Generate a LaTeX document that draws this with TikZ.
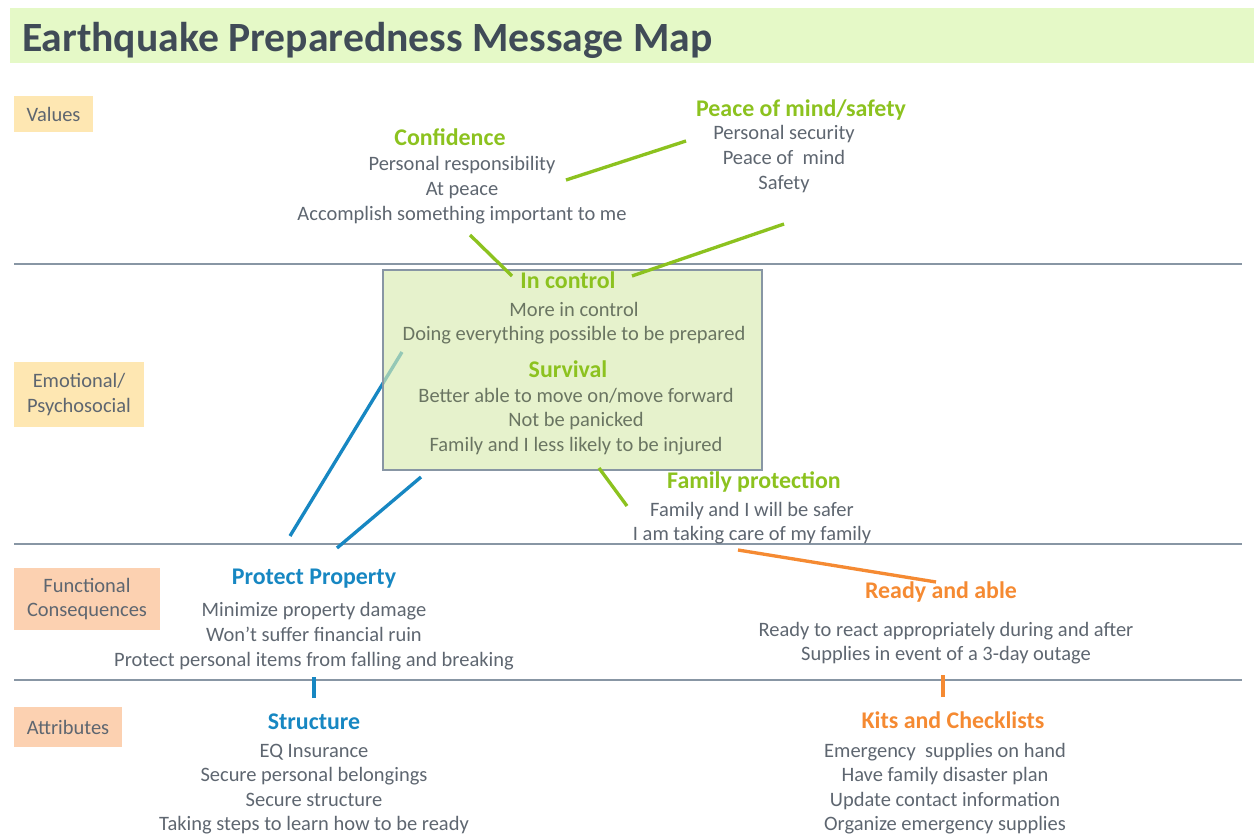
\documentclass[tikz,border=0pt]{standalone}
\usepackage{fontspec}
\setmainfont{Carlito}
\definecolor{faixa}{HTML}{E5F9C7}
\definecolor{titcor}{HTML}{404B57}
\definecolor{amar}{HTML}{FEE7B2}
\definecolor{pess}{HTML}{FCD1B1}
\definecolor{caixa}{HTML}{D9EBB0}
\definecolor{verde}{HTML}{8CC21F}
\definecolor{azul}{HTML}{1787C2}
\definecolor{laranja}{HTML}{F58A32}
\definecolor{texto}{HTML}{5E6670}
\definecolor{textocx}{HTML}{6A7562}
\definecolor{regua}{HTML}{8896A4}
\newcommand{\txtcorpo}{\fontsize{11.65}{14}\selectfont}
\newcommand{\txttit}{\fontsize{13.6}{16}\selectfont\bfseries}
\begin{document}
\begin{tikzpicture}[x=0.02cm,y=-0.02cm]
\tikzset{ inner sep=0pt, outer sep=0pt,
  corpo/.style={font=\txtcorpo, text=texto, align=center, yshift=-1.2pt},
  tverde/.style={font=\txttit, text=verde},
  tazul/.style={font=\txttit, text=azul},
  tlaranja/.style={font=\txttit, text=laranja},
  categ/.style={font=\txtcorpo, text=texto, align=center},
  ligv/.style={verde, line width=1.9pt},
  liga/.style={azul, line width=1.9pt},
  ligl/.style={laranja, line width=1.9pt},
}
\useasboundingbox (0,0) rectangle (1254,835);

%%% Titulo
\fill[faixa] (10,8) rectangle (1254,63);
\node [anchor=west, font=\fontsize{23.7}{28}\selectfont\bfseries, text=titcor] (titulo) at (22,40) {Earthquake Preparedness Message Map};

%%% Reguas
\coordinate (R1a) at (14,264);  \coordinate (R1b) at (1242,264);
\coordinate (R2a) at (14,544);  \coordinate (R2b) at (1242,544);
\coordinate (R3a) at (14,680);  \coordinate (R3b) at (1242,680);
\draw [regua, line width=0.9pt] (R1a) -- (R1b);
\draw [regua, line width=0.9pt] (R2a) -- (R2b);
\draw [regua, line width=0.9pt] (R3a) -- (R3b);

%%% Categorias
\node [categ, fill=amar, minimum width=1.58cm, minimum height=0.72cm] (valores) at (53.5,114) {Values};
\node [categ, fill=amar, minimum width=2.6cm, minimum height=1.3cm] (emocional) at (79,394.5) {Emotional/\\Psychosocial};
\node [categ, fill=pess, minimum width=2.92cm, minimum height=1.24cm] (funcional) at (87,599) {Functional\\Consequences};
\node [categ, fill=pess, minimum width=2.16cm, minimum height=0.8cm] (atributos) at (68,727) {Attributes};

%%% Linhas (antes da caixa)

% Protect Property -> caixa
\coordinate (PPa) at (290,536);
\coordinate (CXa) at (402,352);
\draw [liga] (PPa) -- (CXa);

%%% Caixa In control / Survival
\coordinate (CX0) at (383,270);
\coordinate (CX1) at (762,470);
\draw [regua, line width=1.1pt, fill=caixa, fill opacity=0.65] (CX0) rectangle (CX1);

%%% Textos

% Values
\node [tverde] (conf) at (450,137) {Confidence};
\node [corpo] (confB) at (462,188) {Personal responsibility\\At peace\\Accomplish something important to me};
\node [tverde] (paz) at (801,110) {Peace of mind/safety};
\node [corpo] (pazB) at (784,157) {Personal security\\Peace of\ \ mind\\Safety};

% Emotional
\node [tverde] (ctrl) at (568,280) {In control};
\node [corpo, text=textocx] (ctrlB) at (574,321) {More in control\\Doing everything possible to be prepared};
\node [tverde] (surv) at (568,369) {Survival};
\node [corpo, text=textocx] (survB) at (576,419.5) {Better able to move on/move forward\\Not be panicked\\Family and I less likely to be injured};
\node [tverde] (fam) at (754,482) {Family protection};
\node [corpo] (famB) at (752,521) {Family and I will be safer\\I am taking care of my family};

% Functional
\node [tazul] (prop) at (314,579) {Protect Property};
\node [corpo] (propB) at (314,634) {Minimize property damage\\Won’t suffer financial ruin\\Protect personal items from falling and breaking};
\node [tlaranja] (pronto) at (941,592) {Ready and able};
\node [corpo] (prontoB) at (946,641) {Ready to react appropriately during and after\\Supplies in event of a 3-day outage};

% Attributes
\node [tazul] (estr) at (314,722) {Structure};
\node [corpo] (estrB) at (314,787) {EQ Insurance\\Secure personal belongings\\Secure structure\\Taking steps to learn how to be ready};
\node [tlaranja] (kits) at (953,720) {Kits and Checklists};
\node [corpo] (kitsB) at (945,786.5) {Emergency\ \ supplies on hand\\Have family disaster plan\\Update contact information\\Organize emergency supplies};

%%% Linhas

% Confidence -> Peace of mind
\coordinate (CFa) at (566,180);
\coordinate (PZa) at (686,141);
\draw [ligv] (CFa) -- (PZa);

% Confidence -> In control
\coordinate (CFb) at (470,235);
\coordinate (ICa) at (512,276);
\draw [ligv] (CFb) -- (ICa);

% In control -> Safety
\coordinate (ICb) at (632,276);
\coordinate (PZb) at (784,224);
\draw [ligv] (ICb) -- (PZb);

% caixa -> Family protection
\coordinate (CXb) at (599,468);
\coordinate (FPa) at (627,506);
\draw [ligv] (CXb) -- (FPa);

% Protect Property -> caixa (2)
\coordinate (PPb) at (337,548);
\coordinate (CXc) at (421,477);
\draw [liga] (PPb) -- (CXc);

% Structure -> Protect Property
\coordinate (STa) at (314,698);
\coordinate (PPc) at (314,677);
\draw [liga] (STa) -- (PPc);

% Family protection -> Ready and able
\coordinate (FPb) at (738,550);
\coordinate (RAa) at (936,582);
\draw [ligl] (FPb) -- (RAa);

% Kits -> Ready and able
\coordinate (KTa) at (943,697);
\coordinate (RAb) at (943,675);
\draw [ligl] (KTa) -- (RAb);

\end{tikzpicture}
\end{document}
